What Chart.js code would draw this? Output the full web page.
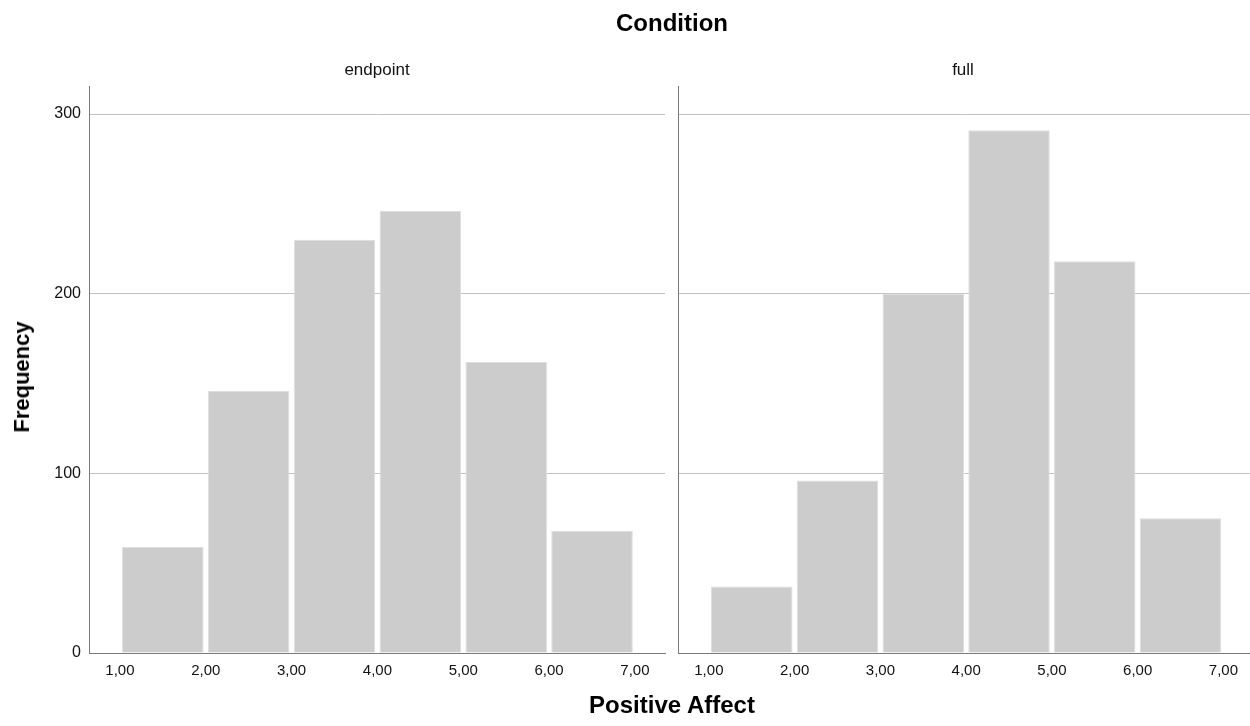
<!DOCTYPE html>
<html>
<head>
<meta charset="utf-8">
<script src="https://cdn.jsdelivr.net/npm/chart.js@4.4.0/dist/chart.umd.min.js"></script>
<style>
  body { margin: 0; background: #fff; font-family: Arial, "Liberation Sans", sans-serif; }
  #wrap { position: relative; width: 1250px; height: 726px; overflow: hidden; }
  .lbl { position: absolute; transform: translate(-50%, -50%); white-space: nowrap; color: #000; }
  .big { font-weight: bold; font-size: 24px; }
  .panel { font-size: 17px; color: #111; }
  canvas { position: absolute; top: 0; }
</style>
</head>
<body>
<div id="wrap">
  <canvas id="left" width="670" height="700" style="left:0"></canvas>
  <canvas id="right" width="580" height="700" style="left:670px"></canvas>
  <div class="lbl big" style="left:672px; top:23px">Condition</div>
  <div class="lbl panel" style="left:377px; top:70px">endpoint</div>
  <div class="lbl panel" style="left:963px; top:70px">full</div>
  <div class="lbl big" style="left:22px; top:377px; font-size:22px; transform: translate(-50%, -50%) rotate(-90deg)">Frequency</div>
  <div class="lbl big" style="left:672px; top:705px">Positive Affect</div>
</div>
<script>
// histogram bins (lower edges, width 1) and counts per condition
const binStarts = [1, 2, 3, 4, 5, 6];
const endpointCounts = [59, 146, 230, 246, 162, 68];
const fullCounts = [37, 96, 200, 291, 218, 75];
const xTicks = [1, 2, 3, 4, 5, 6, 7];
const yTicks = [0, 100, 200, 300];

const AXIS = "#7a7a7a";
const GRID = "#c2c2c2";
const BAR = "#cccccc";

function toBars(counts) {
  return binStarts.map((b, i) => ({ x: b + 0.5, y: counts[i] }));
}

function renderPanel(id, counts, showYLabels, yAxisWidth, padRight, xMax) {
  const ctx = document.getElementById(id);
  new Chart(ctx, {
    type: "bar",
    data: {
      datasets: [
        {
          data: toBars(counts),
          backgroundColor: BAR,
          borderColor: "#dedede",
          borderWidth: 1,
          barPercentage: 0.95,
          categoryPercentage: 1,
        },
      ],
    },
    options: {
      responsive: false,
      animation: false,
      layout: { padding: { top: 86, right: padRight, left: 0, bottom: 0 } },
      plugins: { legend: { display: false }, tooltip: { enabled: false } },
      scales: {
        x: {
          type: "linear",
          offset: false,
          min: 0.64,
          max: xMax,
          afterBuildTicks: (s) => { s.ticks = xTicks.map((v) => ({ value: v })); },
          afterFit: (s) => { s.height = 47; },
          ticks: {
            padding: 9,
            color: "#111",
            font: { family: "Arial", size: 15 },
            callback: (v) => v.toFixed(2).replace(".", ","),
          },
          grid: { display: false, drawTicks: false, offset: false },
          border: { color: AXIS, width: 1 },
        },
        y: {
          min: 0,
          max: 315.6,
          afterBuildTicks: (s) => { s.ticks = yTicks.map((v) => ({ value: v })); },
          afterFit: (s) => { s.width = yAxisWidth; },
          ticks: {
            display: showYLabels,
            padding: 8,
            color: "#111",
            font: { family: "Arial", size: 16 },
          },
          grid: { color: GRID, lineWidth: 1, drawTicks: false },
          border: { color: AXIS, width: 1 },
        },
      },
    },
  });
}

renderPanel("left", endpointCounts, true, 89, 5, 7.35);
renderPanel("right", fullCounts, false, 8, 0, 7.31);
</script>
</body>
</html>
